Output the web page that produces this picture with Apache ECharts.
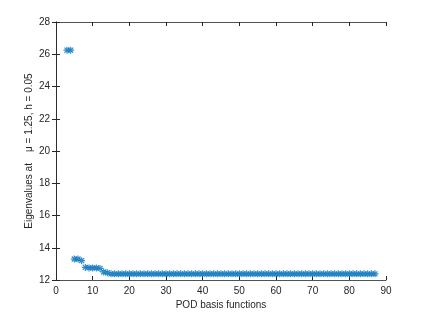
<!DOCTYPE html>
<html>
<head>
<meta charset="utf-8">
<script src="https://cdn.jsdelivr.net/npm/echarts@6/dist/echarts.min.js"></script>
<style>
  html, body { margin: 0; padding: 0; background: #fff; }
  #chart { width: 428px; height: 315px; }
</style>
</head>
<body>
<div id="chart"></div>
<script>
// number of POD basis functions and the eigenvalues
const nBasis = [3, 4, 5, 6, 7, 8, 9, 10, 11, 12, 13, 14]
const eigHead = [26.25, 26.25, 13.3, 13.3, 13.2, 12.78, 12.75, 12.75, 12.75, 12.72, 12.5, 12.45]
const tailStart = 15
const tailEnd = 87
const tailValue = 12.38

const xs = nBasis.slice()
const ys = eigHead.slice()
for (let n = tailStart; n <= tailEnd; n++) {
  xs.push(n)
  ys.push(tailValue)
}
const points = xs.map((x, i) => [x, ys[i]])

const axisColor = '#262626'
const star = 'path://M0,-1L0,1M-1,0L1,0M-0.72,-0.72L0.72,0.72M-0.72,0.72L0.72,-0.72'

let myChart = echarts.init(document.getElementById('chart'))
myChart.setOption({
  animation: false,
  grid: { left: 56, right: 42, top: 22, bottom: 35 },
  xAxis: [{
    type: 'value', min: 0, max: 90, interval: 10,
    name: 'POD basis functions', nameLocation: 'middle', nameGap: 20,
    nameMoveOverlap: false,
    nameTextStyle: { fontFamily: 'Liberation Sans', fontSize: 10, color: axisColor },
    axisLine: { lineStyle: { color: axisColor, width: 0.8 } },
    axisTick: { inside: true, length: 4, lineStyle: { color: axisColor } },
    axisLabel: { fontFamily: 'Liberation Sans', fontSize: 10, color: axisColor, margin: 6 },
    splitLine: { show: false }
  }, {
    type: 'value', position: 'top', min: 0, max: 90, interval: 10,
    axisLine: { lineStyle: { color: axisColor, width: 0.8 } },
    axisTick: { inside: true, length: 4, lineStyle: { color: axisColor } },
    axisLabel: { show: false }, splitLine: { show: false }
  }],
  yAxis: [{
    type: 'value', min: 12, max: 28, interval: 2,
    name: 'Eigenvalues at    \u03bc = 1.25, h = 0.05', nameLocation: 'middle', nameGap: 22,
    nameMoveOverlap: false,
    nameTextStyle: { fontFamily: 'Liberation Sans', fontSize: 10, color: axisColor },
    axisLine: { lineStyle: { color: axisColor, width: 0.8 } },
    axisTick: { inside: true, length: 4, lineStyle: { color: axisColor } },
    axisLabel: { fontFamily: 'Liberation Sans', fontSize: 10, color: axisColor, margin: 6 },
    splitLine: { show: false }
  }, {
    type: 'value', position: 'right', min: 12, max: 28, interval: 2,
    axisLine: { show: true, lineStyle: { color: axisColor, width: 0.8 } },
    axisTick: { show: true, inside: true, length: 4, lineStyle: { color: axisColor } },
    axisLabel: { show: false }, splitLine: { show: false }
  }],
  series: [{
    type: 'scatter',
    data: points,
    symbol: star,
    symbolSize: 7,
    itemStyle: { color: 'rgba(0,0,0,0)', borderColor: '#0072BD', borderWidth: 1.2 }
  }]
})
</script>
</body>
</html>
